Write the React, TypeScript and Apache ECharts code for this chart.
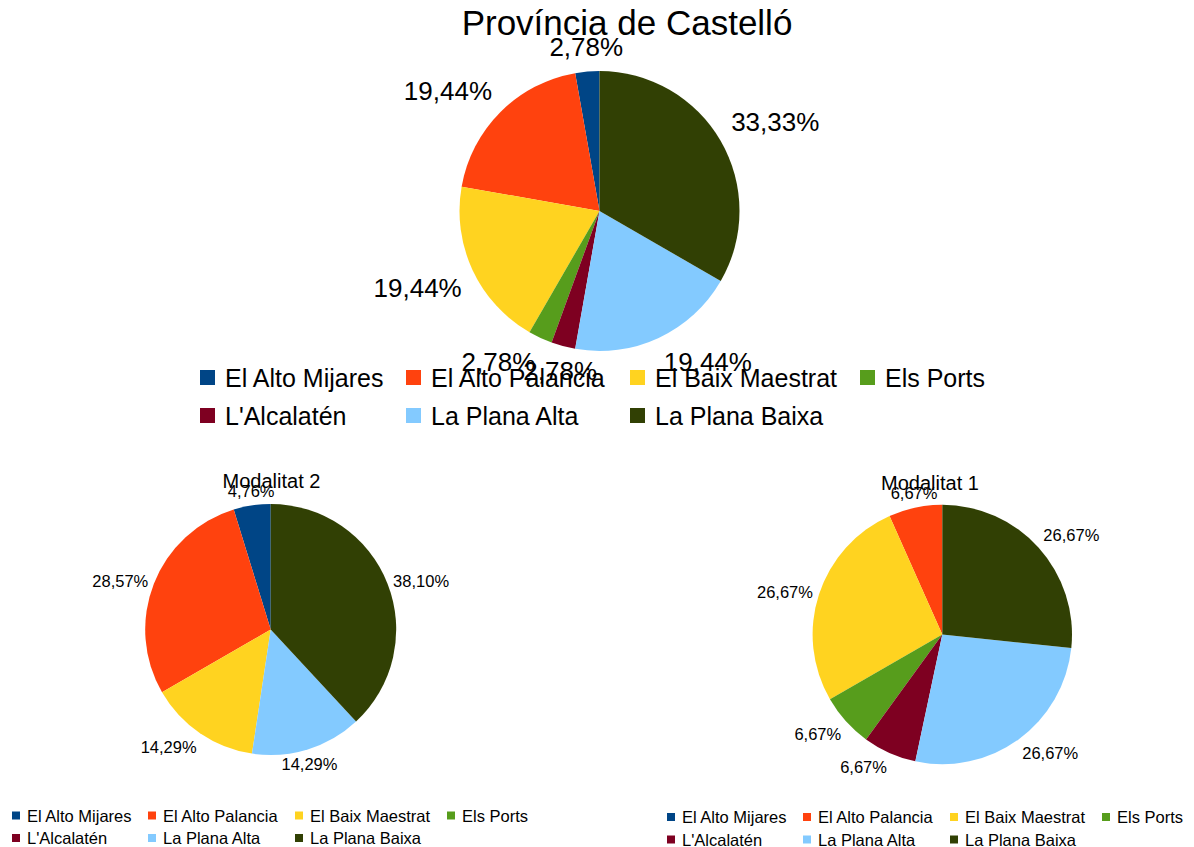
import React, { useEffect, useRef } from 'react';
import * as echarts from 'echarts';

const categories = [
  'El Alto Mijares',
  'El Alto Palancia',
  'El Baix Maestrat',
  'Els Ports',
  "L'Alcalatén",
  'La Plana Alta',
  'La Plana Baixa',
];
const colors = ['#004586', '#ff420e', '#ffd320', '#579d1c', '#7e0021', '#83caff', '#314004'];

const provinciaValues = [1, 7, 7, 1, 1, 7, 12];
const modalitat2Values = [1, 6, 3, 0, 0, 3, 8];
const modalitat1Values = [0, 1, 4, 1, 1, 4, 4];

const titles = ['Província de Castelló', 'Modalitat 2', 'Modalitat 1'];

const FONT = "'Liberation Sans', Arial, sans-serif";

// legend columns (indices into categories)
const legendColumns = [[0, 4], [1, 5], [2, 6], [3]];

function fmtPct(v: number, total: number) {
  return ((v / total) * 100).toFixed(2).replace('.', ',') + '%';
}

function makeLabelLayout(values: number[], cx: number, cy: number, R: number) {
  const total = values.reduce((a, b) => a + b, 0);
  return (params: any) => {
    const i = params.dataIndex;
    let before = 0;
    for (let k = 0; k < i; k++) before += values[k];
    const midFrac = (before + values[i] / 2) / total;
    let deg = 90 + midFrac * 360;
    deg = ((deg % 360) + 360) % 360;
    const rad = (deg * Math.PI) / 180;
    const x = cx + R * Math.cos(rad);
    const y = cy - R * Math.sin(rad);
    let align = 'left';
    let va = 'middle';
    if (deg <= 22.5 || deg >= 337.5) { align = 'left'; va = 'middle'; }
    else if (deg < 67.5) { align = 'left'; va = 'bottom'; }
    else if (deg < 112.5) { align = 'center'; va = 'bottom'; }
    else if (deg <= 157.5) { align = 'right'; va = 'bottom'; }
    else if (deg <= 202.5) { align = 'right'; va = 'middle'; }
    else if (deg < 247.5) { align = 'right'; va = 'top'; }
    else if (deg < 292.5) { align = 'center'; va = 'top'; }
    else { align = 'left'; va = 'top'; }
    return { x, y, align, verticalAlign: va };
  };
}

function makePie(values: number[], cx: number, cy: number, r: number, labelR: number, fontSize: number) {
  const total = values.reduce((a, b) => a + b, 0);
  return {
    type: 'pie',
    center: [cx, cy],
    radius: r,
    startAngle: 90,
    clockwise: false,
    avoidLabelOverlap: false,
    emphasis: { disabled: true },
    itemStyle: { borderWidth: 0 },
    labelLine: { show: false },
    label: {
      show: true,
      position: 'outside',
      color: '#000',
      fontFamily: FONT,
      fontSize,
      formatter: (p: any) => fmtPct(values[p.dataIndex], total),
    },
    labelLayout: makeLabelLayout(values, cx, cy, labelR),
    data: categories.map((name, i) => ({
      name,
      value: values[i],
      itemStyle: { color: colors[i] },
      label: { show: values[i] > 0 },
    })),
  };
}

function makeLegends(lefts: number[], top: number, iconSize: number, fontSize: number, gap: number, textPad: number) {
  return legendColumns.map((col, c) => ({
    orient: 'vertical',
    left: lefts[c],
    top,
    height: 120,
    padding: 0,
    itemGap: gap,
    itemWidth: iconSize,
    itemHeight: iconSize,
    icon: 'rect',
    selectedMode: false,
    data: col.map((i) => categories[i]),
    textStyle: { fontFamily: FONT, fontSize, color: '#000', padding: [0, 0, 0, textPad] },
  }));
}

export default function App() {
  const ref = useRef<HTMLDivElement>(null);
  useEffect(() => {
    if (!ref.current) return;
    const chart = echarts.init(ref.current, null, { renderer: 'svg' });
    const titleStyle = (size: number) => ({ fontFamily: FONT, fontSize: size, fontWeight: 'normal', color: '#000' });
    chart.setOption({
      animation: false,
      backgroundColor: '#ffffff',
      color: colors,
      title: [
        { text: titles[0], left: 627, top: 5, textAlign: 'center', padding: 0, textStyle: titleStyle(35) },
        { text: titles[1], left: 271.5, top: 471, textAlign: 'center', padding: 0, textStyle: titleStyle(20) },
        { text: titles[2], left: 930, top: 473, textAlign: 'center', padding: 0, textStyle: titleStyle(20) },
      ],
      legend: [
        ...makeLegends([200, 406, 630, 860], 365, 15, 25, 13, 5),
        ...makeLegends([12, 148, 295, 447], 807, 8, 16.5, 5.5, 2),
        ...makeLegends([667, 803, 950, 1102], 808.5, 8, 16.5, 5.5, 2),
      ],
      series: [
        makePie(provinciaValues, 599.5, 211, 140, 152, 26),
        makePie(modalitat2Values, 270.7, 629.5, 125.5, 131.5, 16.5),
        makePie(modalitat1Values, 942.3, 634.5, 129.7, 136, 16.5),
      ],
    });
    return () => chart.dispose();
  }, []);
  return (
    <div
      ref={ref}
      style={{ position: 'fixed', left: 0, top: 0, width: 1194, height: 847, background: '#fff' }}
    />
  );
}
